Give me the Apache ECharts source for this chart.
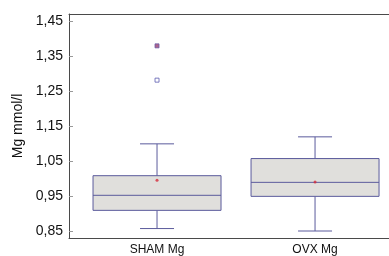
<!DOCTYPE html>
<html>
<head>
<meta charset="utf-8">
<script src="https://cdn.jsdelivr.net/npm/echarts@6/dist/echarts.min.js"></script>
<style>
  html, body { margin: 0; padding: 0; background: #fff; }
  #main { width: 389px; height: 256px; }
</style>
</head>
<body>
<div id="main"></div>
<script>
// groups (placed at x = 0 and x = 1)
const categories = ['SHAM Mg', 'OVX Mg']
// [min, Q1, median, Q3, max]
const boxValues = [
  [0.857, 0.909, 0.952, 1.008, 1.099],
  [0.85, 0.949, 0.989, 1.057, 1.119]
]
const meanValues = [0.995, 0.99]
// outliers [group index, value]
const outlierFar = [[0, 1.379]]
const outlierNear = [[0, 1.281]]
const yTicks = [0.85, 0.95, 1.05, 1.15, 1.25, 1.35, 1.45]

const boxColor = '#5b5b9c'
const frameColor = '#4a4a4a'
const font = 'Liberation Sans, Arial, sans-serif'

const chart = echarts.init(document.getElementById('main'))

const option = {
  animation: false,
  grid: {
    left: 69,
    right: 0,
    top: 14,
    bottom: 18,
    outerBoundsMode: 'none'
  },
  xAxis: [
    {
      type: 'value',
      min: -0.557,
      max: 1.468,
      axisLine: { show: true, onZero: false, lineStyle: { color: frameColor } },
      axisTick: { show: false },
      splitLine: { show: false },
      axisLabel: {
        customValues: [0, 1],
        color: '#111',
        fontFamily: font,
        fontSize: 12,
        margin: 6,
        formatter: (v) => categories[Math.round(v)]
      }
    },
    {
      // top edge of the frame
      type: 'value',
      position: 'top',
      min: -0.557,
      max: 1.468,
      axisLine: { show: true, onZero: false, lineStyle: { color: frameColor } },
      axisTick: { show: false },
      axisLabel: { show: false },
      splitLine: { show: false }
    }
  ],
  yAxis: {
    type: 'value',
    min: 0.83,
    max: 1.47,
    name: 'Mg mmol/l',
    nameLocation: 'middle',
    nameGap: 44,
    nameTextStyle: { color: '#111', fontFamily: font, fontSize: 14 },
    splitLine: { show: false },
    axisLine: { show: true, onZero: false, lineStyle: { color: frameColor } },
    axisTick: {
      show: true,
      inside: true,
      length: 4,
      customValues: yTicks,
      lineStyle: { color: '#999' }
    },
    axisLabel: {
      customValues: yTicks,
      color: '#111',
      fontFamily: font,
      fontSize: 14,
      margin: 6,
      formatter: (v) => v.toFixed(2).replace('.', ',')
    }
  },
  series: [
    {
      type: 'custom',
      data: boxValues.map((b, i) => [i].concat(b)),
      renderItem: function (params, api) {
        const i = api.value(0)
        const x = api.coord([i, api.value(1)])[0]
        const boxW = 128
        const capW = 34
        const yMin = api.coord([i, api.value(1)])[1]
        const yQ1 = api.coord([i, api.value(2)])[1]
        const yMed = api.coord([i, api.value(3)])[1]
        const yQ3 = api.coord([i, api.value(4)])[1]
        const yMax = api.coord([i, api.value(5)])[1]
        const ls = { stroke: boxColor, lineWidth: 1 }
        return {
          type: 'group',
          children: [
            { type: 'line', shape: { x1: x, y1: yMax, x2: x, y2: yQ3 }, style: ls },
            { type: 'line', shape: { x1: x, y1: yQ1, x2: x, y2: yMin }, style: ls },
            { type: 'line', shape: { x1: x - capW / 2, y1: yMax, x2: x + capW / 2, y2: yMax }, style: ls },
            { type: 'line', shape: { x1: x - capW / 2, y1: yMin, x2: x + capW / 2, y2: yMin }, style: ls },
            {
              type: 'rect',
              shape: { x: x - boxW / 2, y: yQ3, width: boxW, height: yQ1 - yQ3 },
              style: { fill: '#e0dfdc', stroke: boxColor, lineWidth: 1 }
            },
            { type: 'line', shape: { x1: x - boxW / 2, y1: yMed, x2: x + boxW / 2, y2: yMed }, style: ls }
          ]
        }
      }
    },
    {
      type: 'scatter',
      data: meanValues.map((v, i) => [i, v]),
      symbol: 'circle',
      symbolSize: 3,
      itemStyle: { color: '#d42a3a' },
      z: 5
    },
    {
      type: 'scatter',
      data: outlierFar,
      symbol: 'rect',
      symbolSize: 4,
      itemStyle: { color: '#9a3f6e', borderColor: '#6a5aa8', borderWidth: 1 },
      z: 5
    },
    {
      type: 'scatter',
      data: outlierNear,
      symbol: 'rect',
      symbolSize: 4,
      itemStyle: { color: '#fff', borderColor: '#5b5bb0', borderWidth: 1 },
      z: 5
    }
  ]
}

chart.setOption(option)
</script>
</body>
</html>
